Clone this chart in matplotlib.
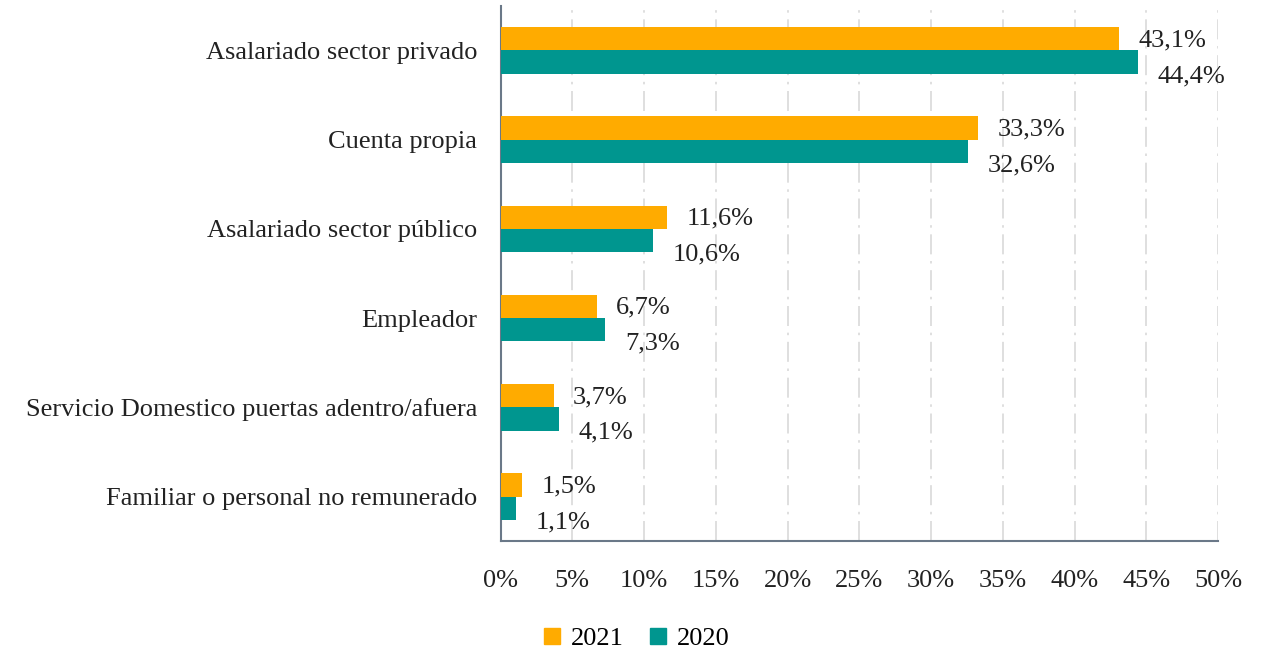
import numpy as np
import matplotlib.pyplot as plt
from matplotlib.patches import Patch

# ---------- data ----------
categories = [
    "Asalariado sector privado",
    "Cuenta propia",
    "Asalariado sector público",
    "Empleador",
    "Servicio Domestico puertas adentro/afuera",
    "Familiar o personal no remunerado",
]
vals_2021 = [43.1, 33.3, 11.6, 6.7, 3.7, 1.5]
vals_2020 = [44.4, 32.6, 10.6, 7.3, 4.1, 1.1]
xticks = [0, 5, 10, 15, 20, 25, 30, 35, 40, 45, 50]

# ---------- style ----------
C21 = "#FFAB00"
C20 = "#00968F"
SPINE = "#6a7888"
plt.rcParams.update({"font.family": ["Liberation Serif", "DejaVu Serif"], "font.size": 19})

fig = plt.figure(figsize=(12.61, 6.52), dpi=100)
ax = fig.add_axes([0.397, 0.170, 0.569, 0.821])

y = np.arange(len(categories))
h = 0.26
ax.barh(y - h / 2, vals_2021, height=h, color=C21, zorder=3)
ax.barh(y + h / 2, vals_2020, height=h, color=C20, zorder=3)

def fmt(v):
    return f"{v:.1f}%".replace(".", ",")

for yi, v in zip(y, vals_2021):
    ax.annotate(fmt(v), (v, yi - h / 2), xytext=(14, -1), textcoords="offset points",
                va="center", ha="left", color="#222222")
for yi, v in zip(y, vals_2020):
    ax.annotate(fmt(v), (v, yi + h / 2), xytext=(14, -10), textcoords="offset points",
                va="center", ha="left", color="#222222")

ax.set_xlim(0, 50)
ax.set_ylim(len(categories) - 0.5, -0.5)
ax.set_xticks(xticks)
ax.set_xticklabels([f"{t}%" for t in xticks])
ax.set_yticks(y)
ax.set_yticklabels(categories)
ax.tick_params(axis="both", length=0, colors="#222222")
ax.tick_params(axis="x", pad=21)
ax.tick_params(axis="y", pad=17)

ax.grid(axis="x", color="#d9d9d9", linestyle=(0, (12, 4, 1.5, 4)), linewidth=1.2, zorder=0)
for s in ["top", "right"]:
    ax.spines[s].set_visible(False)
for s in ["left", "bottom"]:
    ax.spines[s].set_color(SPINE)
    ax.spines[s].set_linewidth(1.5)

handles = [Patch(color=C21, label="2021"), Patch(color=C20, label="2020")]
fig.legend(handles=handles, loc="center", bbox_to_anchor=(0.505, 0.02), ncol=2,
           frameon=False, handlelength=0.6, handleheight=0.6, columnspacing=1.0,
           handletextpad=0.4)

fig.savefig("out.png", dpi=100)
